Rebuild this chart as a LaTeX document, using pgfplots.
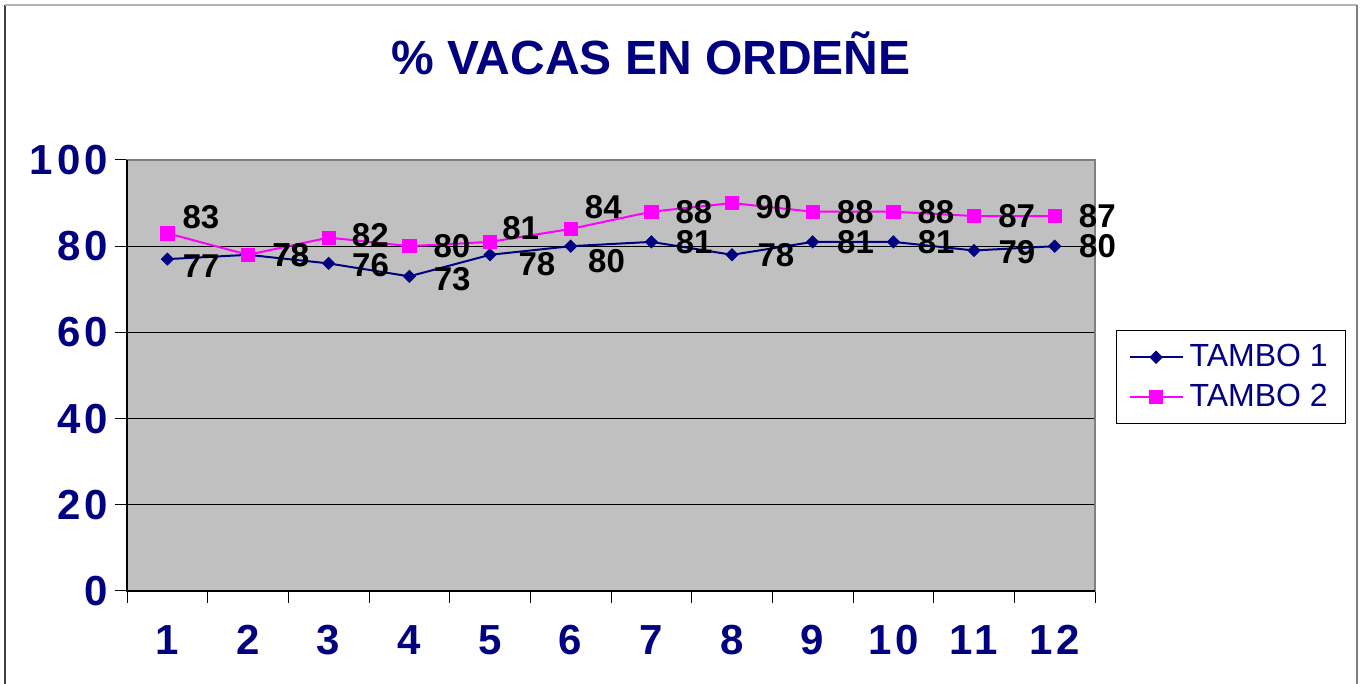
\documentclass[border=0pt]{standalone}
\usepackage{fontspec}
\setmainfont{Liberation Sans}
\newfontfamily\tickfont[LetterSpace=9]{Liberation Sans}
\usepackage{pgfplots}
\pgfplotsset{compat=1.18}
\usepackage{pgfplotstable}
\definecolor{navy}{HTML}{000080}
\definecolor{mag}{HTML}{FF00FF}
\definecolor{plotbg}{HTML}{C0C0C0}

\pgfplotstableread{
x y dx dy
1 77 15 7
2 78 24 0
3 76 23 2
4 73 24 3
5 78 28 9
6 80 17 15
7 81 24 0
8 78 25 0
9 81 24 0
10 81 24 0
11 79 24 2
12 80 24 0
}\tamboA

\pgfplotstableread{
x y dx dy
1 83 15 -16
2 78 24 0
3 82 23 -2
4 80 24 0
5 81 12 -14
6 84 14 -22
7 88 24 0
8 90 23 4
9 88 24 0
10 88 24 0
11 87 24 0
12 87 24 0
}\tamboB

\begin{document}
\begin{tikzpicture}
\useasboundingbox (0,0) rectangle (680.5pt,342pt);
% outer frame
\draw[line width=1pt, color=black!75] (2.5pt,0) -- (2.5pt,339.5pt);
\draw[line width=0.8pt, color=black!30] (2.5pt,339.5pt) -- (678.5pt,339.5pt);
\draw[line width=1pt, color=black!50] (678.5pt,339.5pt) -- (678.5pt,0);
\node[anchor=base, font=\bfseries\fontsize{24}{28}\selectfont, text=navy, inner sep=0pt] at (325.5pt,304.5pt) {\% VACAS EN ORDEÑE};
\begin{axis}[
  at={(63.5pt,46.5pt)}, anchor=south west,
  scale only axis, width=484pt, height=215.5pt,
  xmin=0.5, xmax=12.5, ymin=0, ymax=100,
  clip=false,
  /pgf/number format/assume math mode=true,
  axis background/.style={fill=plotbg},
  axis line style={color=black!50, line width=0.8pt},
  xtick pos=bottom, ytick pos=left,
  xtick={1,...,12},
  xticklabels={1,2,3,4,5,6,7,8,9,10,11,12},
  minor xtick={0.5,1.5,...,12.5},
  major x tick style={draw=none},
  minor x tick style={black, line width=0.5pt},
  minor tick length=6pt,
  ytick={0,20,...,100},
  major tick length=6pt,
  tick align=outside,
  y tick style={black, line width=0.5pt},
  ymajorgrids,
  major grid style={black, line width=0.5pt},
  tick label style={font=\tickfont\bfseries\fontsize{21}{24}\selectfont, text=navy},
  yticklabel style={anchor=east, inner sep=0pt, xshift=-3.5pt},
  xticklabel style={anchor=north, inner sep=0pt, yshift=-11pt},
  legend style={at={(1.0217,0.6056)}, anchor=north west, draw=black, fill=white,
    font=\fontsize{16}{19}\selectfont, text=navy, inner xsep=6pt, inner ysep=5pt,
    row sep=3pt, line width=0.6pt,
    nodes={inner xsep=3pt}},
  legend cell align=left,
  legend image code/.code={\draw[mark repeat=2, mark phase=2, #1] plot coordinates {(0pt,0pt) (13.25pt,0pt) (26.5pt,0pt)};},
  nodes near coords,
  nodes near coords style={anchor=west, inner sep=0pt, font=\bfseries\fontsize{16.5}{19}\selectfont, text=black,
    xshift=0.5pt*\dx, yshift=-0.5pt*\dy},
  visualization depends on={\thisrow{dx} \as \dx},
  visualization depends on={\thisrow{dy} \as \dy},
]
\addplot[navy, line width=1pt, mark=square*, mark size=2.1pt, mark options={rotate=45, fill=navy, draw=navy, line width=0.5pt}] table[x=x, y=y] {\tamboA};
\addlegendentry{TAMBO 1}
\addplot[mag, line width=1pt, mark=square*, mark size=3.3pt, mark options={fill=mag, draw=mag, line width=0.3pt}] table[x=x, y=y] {\tamboB};
\addlegendentry{TAMBO 2}
\draw[black, line width=0.8pt] (rel axis cs:0,1) -- (rel axis cs:0,0) -- (rel axis cs:1,0);
\end{axis}
\end{tikzpicture}
\end{document}
